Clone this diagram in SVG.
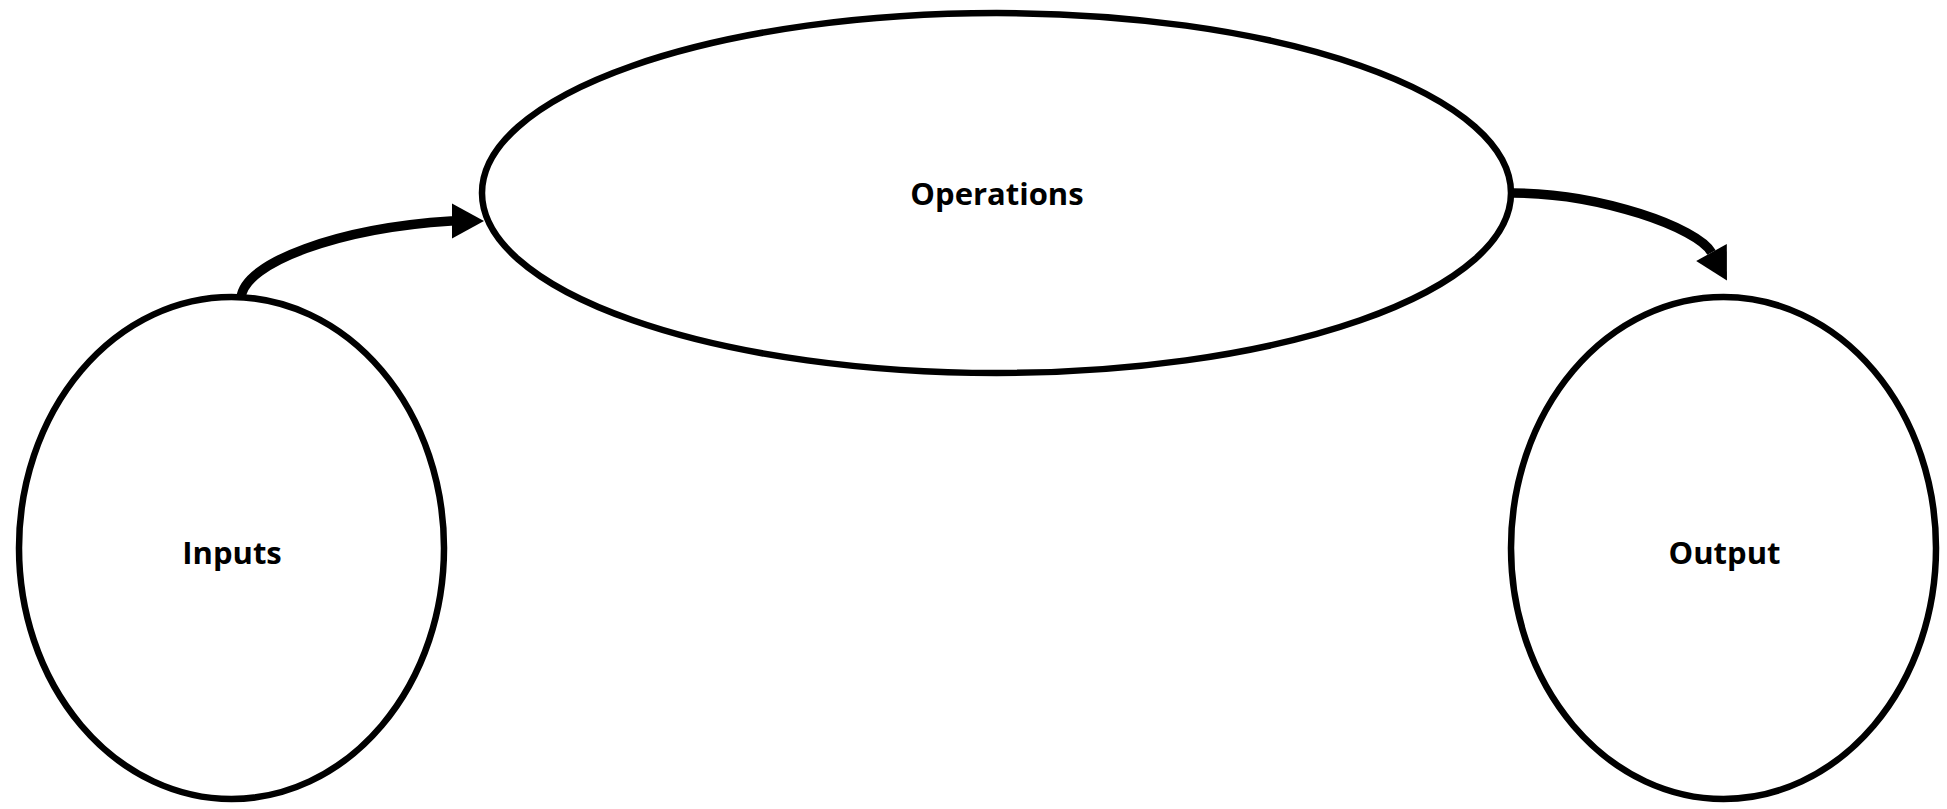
<svg xmlns="http://www.w3.org/2000/svg" width="1947" height="809" viewBox="0 0 1947 809">
  <style>
    .node { fill: #ffffff; stroke: #000000; stroke-width: 6.5; }
    .label { font-family: "Open Sans", "Liberation Sans", sans-serif; font-weight: 700; font-size: 31px; fill: #000000; text-anchor: middle; }
    .link { fill: none; stroke: #000000; stroke-width: 9.5; stroke-linecap: butt; }
  </style>
  <defs>
    <marker id="head" markerUnits="userSpaceOnUse" viewBox="0 -18 33 36" refX="0" refY="0" markerWidth="33" markerHeight="36" orient="auto" overflow="visible">
      <path d="M0,-17.5 L32,0 L0,17.5 Z" fill="#000000"/>
    </marker>
  </defs>
  <rect width="1947" height="809" fill="#ffffff"/>

  <g id="node-inputs">
    <ellipse class="node" cx="231.5" cy="548" rx="212.5" ry="251"/>
    <text class="label" x="232" y="564">Inputs</text>
  </g>

  <g id="node-operations">
    <ellipse class="node" cx="996.5" cy="193" rx="514.5" ry="180"/>
    <text class="label" x="997" y="204.5">Operations</text>
  </g>

  <g id="node-output">
    <ellipse class="node" cx="1723.5" cy="548" rx="212.5" ry="251"/>
    <text class="label" x="1724.5" y="564">Output</text>
  </g>

  <g id="connectors">
    <!-- Inputs -> Operations -->
    <path class="link" d="M241,298 C244,262 340,228 451,221 L452,221" marker-end="url(#head)"/>
    <!-- Operations -> Output -->
    <path class="link" d="M1513,193 C1600,193 1698,228 1711.5,252.5" marker-end="url(#head)"/>
  </g>
</svg>
